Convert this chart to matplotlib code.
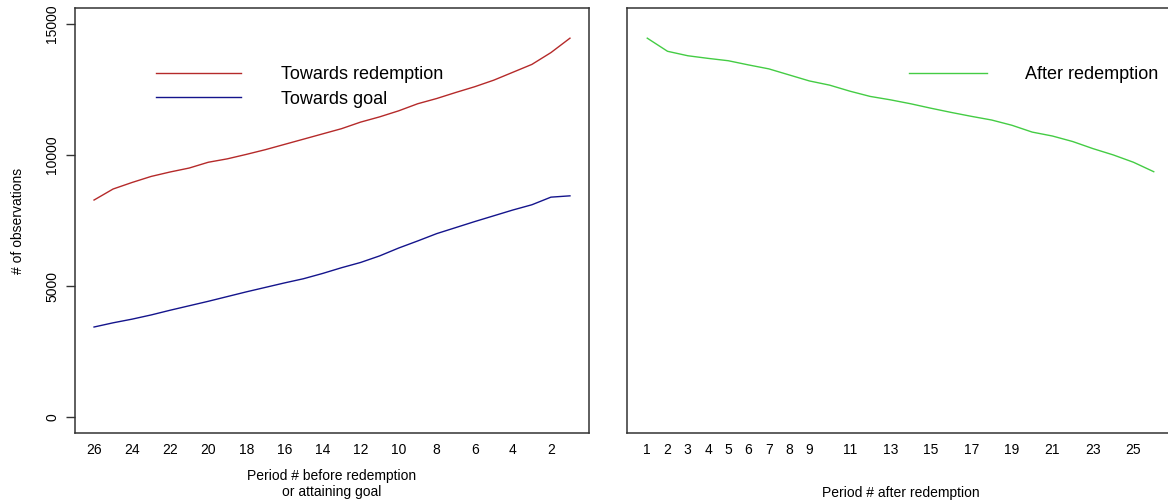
import matplotlib
matplotlib.use('Agg')
import matplotlib.pyplot as plt

plt.rcParams['font.family'] = ['Liberation Sans', 'DejaVu Sans']

# periods counted backwards before redemption / goal
periods_before = [26, 25, 24, 23, 22, 21, 20, 19, 18, 17, 16, 15, 14,
                  13, 12, 11, 10, 9, 8, 7, 6, 5, 4, 3, 2, 1]
towards_redemption = [8280, 8700, 8950, 9180, 9350, 9500, 9720, 9850, 10020,
                      10200, 10400, 10600, 10800, 11000, 11250, 11450, 11680,
                      11950, 12150, 12380, 12600, 12850, 13150, 13450, 13900, 14450]
towards_goal = [3440, 3600, 3740, 3900, 4080, 4250, 4420, 4600, 4780, 4950,
                5120, 5280, 5480, 5700, 5900, 6150, 6450, 6720, 7000, 7230,
                7460, 7680, 7900, 8100, 8390, 8440]

periods_after = list(range(1, 27))
after_redemption = [14450, 13950, 13780, 13680, 13590, 13430, 13280, 13050,
                    12820, 12660, 12430, 12230, 12100, 11950, 11780, 11620,
                    11470, 11330, 11130, 10870, 10720, 10510, 10240, 10000,
                    9720, 9360]

left_ticks = [26, 24, 22, 20, 18, 16, 14, 12, 10, 8, 6, 4, 2]
right_ticks = [1, 2, 3, 4, 5, 6, 7, 8, 9, 11, 13, 15, 17, 19, 21, 23, 25]
y_ticks = [0, 5000, 10000, 15000]

W, H = 1168, 503
fig = plt.figure(figsize=(W / 100, H / 100), dpi=100)

ax1 = fig.add_axes([75 / W, 70 / H, 514 / W, 425 / H])
ax2 = fig.add_axes([627 / W, 70 / H, 547 / W, 425 / H])

red = '#b52a2a'
blue = '#14148c'
green = '#44cc44'

ax1.plot(periods_before, towards_redemption, color=red, lw=1.0, label='Towards redemption')
ax1.plot(periods_before, towards_goal, color=blue, lw=1.0, label='Towards goal')
ax2.plot(periods_after, after_redemption, color=green, lw=1.0, label='After redemption')

ax1.set_xlim(27, 0)
ax2.set_xlim(0, 27)
for ax in (ax1, ax2):
    ax.set_ylim(-600, 15600)
    for s in ax.spines.values():
        s.set_color('#333333')
        s.set_linewidth(1.1)

ax1.set_xticks(left_ticks)
ax1.set_xticklabels([str(t) for t in left_ticks])
ax1.tick_params(axis='x', length=0, pad=7, labelsize=10)
ax1.set_yticks(y_ticks)
ax1.set_yticklabels([str(t) for t in y_ticks], rotation=90, va='center')
ax1.tick_params(axis='y', length=6.5, width=1.0, color='#333333', pad=5, labelsize=10)
ax1.set_ylabel('# of observations', fontsize=10)
ax1.yaxis.set_label_coords(-0.097, 0.5)
ax1.set_xlabel('Period # before redemption\nor attaining goal', fontsize=10,
               labelpad=9, linespacing=1.12)

ax2.set_xticks(right_ticks)
ax2.set_xticklabels([str(t) for t in right_ticks])
ax2.tick_params(axis='x', length=0, pad=7, labelsize=10)
ax2.set_yticks([])
ax2.set_xlabel('Period # after redemption', fontsize=10, labelpad=21)

ax1.legend(loc='upper left', bbox_to_anchor=(156 / W, 1 - 66 / H),
           bbox_transform=fig.transFigure, frameon=False, fontsize=13,
           handlelength=4.7, handletextpad=2.25, borderpad=0, borderaxespad=0,
           labelspacing=0.42)
ax2.legend(loc='upper left', bbox_to_anchor=(909 / W, 1 - 66 / H),
           bbox_transform=fig.transFigure, frameon=False, fontsize=13,
           handlelength=4.3, handletextpad=2.1, borderpad=0, borderaxespad=0)

fig.savefig('out.png', dpi=100)
